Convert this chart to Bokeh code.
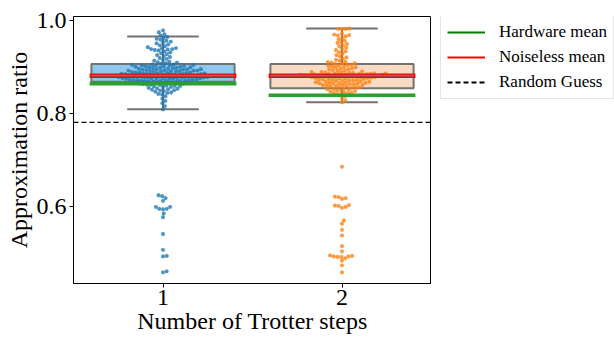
import math
import numpy as np
from bokeh.plotting import figure
from bokeh.layouts import row
from bokeh.models import Range1d, FixedTicker, Span, Legend, LegendItem
from bokeh.embed import file_html
from bokeh.resources import INLINE

# ---------------- data ----------------
categories = ["1", "2"]

steps1 = [
    0.978, 0.974, 0.970, 0.967, 0.964, 0.962, 0.960, 0.958, 0.956, 0.954, 0.952, 0.950, 0.948, 0.946, 0.944, 0.942,
    0.940, 0.939, 0.938, 0.938, 0.937, 0.936, 0.935,
    0.933, 0.931, 0.929, 0.927, 0.925, 0.923, 0.921, 0.919, 0.917, 0.915, 0.913, 0.911, 0.910, 0.909, 0.908, 0.907,
    0.905, 0.905, 0.904, 0.904, 0.903, 0.903, 0.902, 0.902, 0.901, 0.901, 0.900, 0.900, 0.899, 0.899, 0.898, 0.898,
    0.897, 0.897, 0.896, 0.896,
    0.895, 0.895, 0.894, 0.894, 0.894, 0.893, 0.893, 0.892, 0.892, 0.892, 0.891, 0.891, 0.890, 0.890, 0.890, 0.889,
    0.889, 0.888, 0.888, 0.888, 0.887, 0.887, 0.886, 0.886, 0.886, 0.885, 0.885, 0.885,
    0.884, 0.884, 0.884, 0.883, 0.883, 0.883, 0.882, 0.882, 0.882, 0.881, 0.881, 0.881, 0.880, 0.880, 0.880, 0.879,
    0.879, 0.879, 0.878, 0.878, 0.878, 0.877, 0.877, 0.877, 0.876, 0.876, 0.876, 0.875, 0.875, 0.875, 0.874, 0.874,
    0.874, 0.873, 0.873, 0.873, 0.872, 0.872, 0.872, 0.871, 0.871, 0.871, 0.870, 0.870, 0.870,
    0.869, 0.868, 0.868, 0.867, 0.866, 0.866, 0.865, 0.864, 0.864, 0.863, 0.862, 0.862, 0.861, 0.860, 0.859, 0.859,
    0.858, 0.857, 0.856, 0.855,
    0.854, 0.853, 0.852, 0.851, 0.850, 0.849, 0.848, 0.847, 0.845, 0.844, 0.842, 0.841,
    0.837, 0.832, 0.827, 0.822, 0.816, 0.809,
    0.625, 0.623, 0.619, 0.613, 0.600, 0.600, 0.596, 0.596, 0.595, 0.586, 0.578, 0.542, 0.508, 0.495, 0.494,
    0.462, 0.460,
]

steps2 = [
    0.982, 0.981, 0.981, 0.980,
    0.971, 0.969, 0.968, 0.967, 0.965,
    0.962, 0.959, 0.956, 0.953, 0.951, 0.949, 0.946, 0.944, 0.941, 0.938, 0.936, 0.933, 0.931, 0.928, 0.925,
    0.922, 0.920, 0.917, 0.915, 0.913,
    0.911, 0.910, 0.909, 0.908, 0.907, 0.906, 0.905, 0.904, 0.903, 0.902, 0.901, 0.900, 0.899, 0.898, 0.897,
    0.896, 0.895, 0.894, 0.893, 0.892, 0.891, 0.890,
    0.889, 0.889, 0.888, 0.888, 0.887, 0.887, 0.886, 0.886, 0.886, 0.885, 0.885, 0.885, 0.884, 0.884, 0.884,
    0.883, 0.883, 0.883, 0.882, 0.882, 0.882, 0.881, 0.881, 0.881, 0.880, 0.880, 0.880, 0.879, 0.879, 0.879,
    0.878, 0.878, 0.878, 0.877, 0.877, 0.876, 0.876, 0.875, 0.875, 0.874, 0.874, 0.873, 0.873, 0.872, 0.872,
    0.871, 0.871, 0.870, 0.870, 0.869,
    0.868, 0.868, 0.867, 0.867, 0.866, 0.866, 0.865, 0.865, 0.864, 0.864, 0.863, 0.863, 0.862, 0.861, 0.861,
    0.860, 0.859, 0.859, 0.858, 0.857, 0.856, 0.856, 0.855, 0.854, 0.853,
    0.852, 0.851, 0.850, 0.849, 0.848, 0.847, 0.846, 0.845, 0.844, 0.843, 0.842, 0.841,
    0.837, 0.833, 0.828, 0.824,
    0.686, 0.622, 0.621, 0.619, 0.617, 0.604, 0.603, 0.602, 0.600, 0.598, 0.571, 0.564, 0.551, 0.539, 0.516,
    0.505, 0.496, 0.495, 0.494, 0.494, 0.493, 0.493, 0.490, 0.485, 0.475, 0.460,
]

# box statistics
box_q1 = [0.868, 0.854]
box_q3 = [0.906, 0.906]
box_median = [0.881, 0.881]
whisker_low = [0.809, 0.824]
whisker_high = [0.965, 0.982]
hardware_mean = [0.864, 0.839]
noiseless_mean = [0.881, 0.881]
random_guess = 0.781
legend_labels = ["Hardware mean", "Noiseless mean", "Random Guess"]

# ---------------- styling ----------------
FONT = "Liberation Serif"
Y0, Y1 = 0.436, 1.0077
FRAME_H = 267.0
FRAME_W = 358.0
PX_Y = FRAME_H / (Y1 - Y0)
PX_X = FRAME_W / 2.0
point_colors = ["#1f77b4", "#ff7f0e"]
box_colors = ["#8ec8ee", "#f9dbc3"]
edge = "#737373"


def swarm_offsets(vals, d):
    ys = (np.asarray(vals) - Y0) * PX_Y
    order = np.argsort(ys)
    placed = []
    xs = np.zeros(len(vals))
    for i in order:
        y = ys[i]
        neigh = [(px, py) for px, py in placed if abs(py - y) < d]
        cands = [0.0]
        for px, py in neigh:
            dx = math.sqrt(d * d - (py - y) ** 2)
            cands += [px + dx, px - dx]
        cands.sort(key=abs)
        for c in cands:
            if all((c - px) ** 2 + (y - py) ** 2 >= d * d - 1e-6 for px, py in neigh):
                xs[i] = c
                break
        placed.append((xs[i], y))
    return xs / PX_X


p = figure(width=431, height=337, output_backend="svg", toolbar_location=None,
           x_range=Range1d(-0.5, 1.5), y_range=Range1d(Y0, Y1),
           min_border_left=73, min_border_right=0, min_border_top=16, min_border_bottom=54)
p.grid.visible = False
p.outline_line_color = "black"
p.outline_line_width = 1
p.background_fill_color = "white"
p.border_fill_color = "white"

xpos = [0.0, 1.0]

# boxes
p.quad(left=[x - 0.4 for x in xpos], right=[x + 0.4 for x in xpos], bottom=box_q1, top=box_q3,
       fill_color=box_colors, line_color=edge, line_width=2)
# whiskers
p.segment(x0=xpos, y0=box_q3, x1=xpos, y1=whisker_high, line_color=edge, line_width=2)
p.segment(x0=xpos, y0=box_q1, x1=xpos, y1=whisker_low, line_color=edge, line_width=2)
p.segment(x0=[x - 0.2 for x in xpos], y0=whisker_high, x1=[x + 0.2 for x in xpos], y1=whisker_high,
          line_color=edge, line_width=2)
p.segment(x0=[x - 0.2 for x in xpos], y0=whisker_low, x1=[x + 0.2 for x in xpos], y1=whisker_low,
          line_color=edge, line_width=2)

# swarms
for k, vals in enumerate([steps1, steps2]):
    offs = swarm_offsets(vals, 3.8)
    p.scatter(x=xpos[k] + offs, y=vals, size=3.8, fill_color=point_colors[k], fill_alpha=0.8,
              line_color=point_colors[k], line_alpha=0.3, line_width=0.5)

# mean lines
p.segment(x0=[x - 0.41 for x in xpos], y0=hardware_mean, x1=[x + 0.41 for x in xpos], y1=hardware_mean,
          line_color="#2ca02c", line_width=3.6)
p.segment(x0=[x - 0.41 for x in xpos], y0=noiseless_mean, x1=[x + 0.41 for x in xpos], y1=noiseless_mean,
          line_color="#ff0000", line_width=4.5)
p.segment(x0=[x - 0.4 for x in xpos], y0=box_median, x1=[x + 0.4 for x in xpos], y1=box_median,
          line_color=edge, line_width=1.6)

p.add_layout(Span(location=random_guess, dimension="width", line_color="black",
                  line_width=1.3, line_dash="5 3"))

# axes
p.xaxis.ticker = FixedTicker(ticks=xpos)
p.xaxis.major_label_overrides = {0: categories[0], 1: categories[1]}
p.yaxis.ticker = FixedTicker(ticks=[0.6, 0.8, 1.0])
p.yaxis.major_label_overrides = {0.6: "0.6", 0.8: "0.8", 1.0: "1.0"}
p.xaxis.axis_label = "Number of Trotter steps"
p.yaxis.axis_label = "Approximation ratio"
for ax in (p.xaxis, p.yaxis):
    ax.axis_label_text_font = FONT
    ax.axis_label_text_font_style = "normal"
    ax.axis_label_text_font_size = "24px"
    ax.axis_label_text_color = "black"
    ax.major_label_text_font = FONT
    ax.major_label_text_font_size = "24px"
    ax.major_label_text_color = "black"
    ax.axis_line_color = "black"
    ax.major_tick_line_color = "black"
    ax.major_tick_in = 0
    ax.major_tick_out = 4
    ax.minor_tick_line_color = None
p.yaxis.major_label_standoff = 3
p.yaxis.axis_label_standoff = 2
p.xaxis.major_label_standoff = 2
p.xaxis.axis_label_standoff = 0

# ---------------- legend panel ----------------
q = figure(width=183, height=337, output_backend="svg", toolbar_location=None,
           x_range=Range1d(0, 1), y_range=Range1d(0, 1),
           min_border_left=0, min_border_right=0, min_border_top=0, min_border_bottom=0)
q.axis.visible = False
q.grid.visible = False
q.outline_line_color = None
q.background_fill_color = "white"
q.border_fill_color = "white"

# legend-only renderers, placed outside the visible range
off = [5.0, 6.0]
r_hw = q.line(x=off, y=off, line_color="#008000", line_width=2)
r_nl = q.line(x=off, y=off, line_color="#ff0000", line_width=2)
r_rg = q.line(x=off, y=off, line_color="black", line_width=2, line_dash="5 3")
legend = Legend(items=[LegendItem(label=legend_labels[0], renderers=[r_hw]),
                       LegendItem(label=legend_labels[1], renderers=[r_nl]),
                       LegendItem(label=legend_labels[2], renderers=[r_rg])],
                location=(9, 184), orientation="vertical")
legend.label_text_font = FONT
legend.label_text_font_size = "17px"
legend.label_text_color = "black"
legend.glyph_width = 38
legend.glyph_height = 20
legend.label_height = 20
legend.label_standoff = 14
legend.spacing = 5
legend.padding = 6
legend.margin = 0
legend.border_line_color = "#cccccc"
legend.border_line_width = 1
legend.background_fill_alpha = 1.0
q.add_layout(legend, "center")

layout = row(p, q, spacing=0)
open("out.html", "w").write(file_html(layout, INLINE))
